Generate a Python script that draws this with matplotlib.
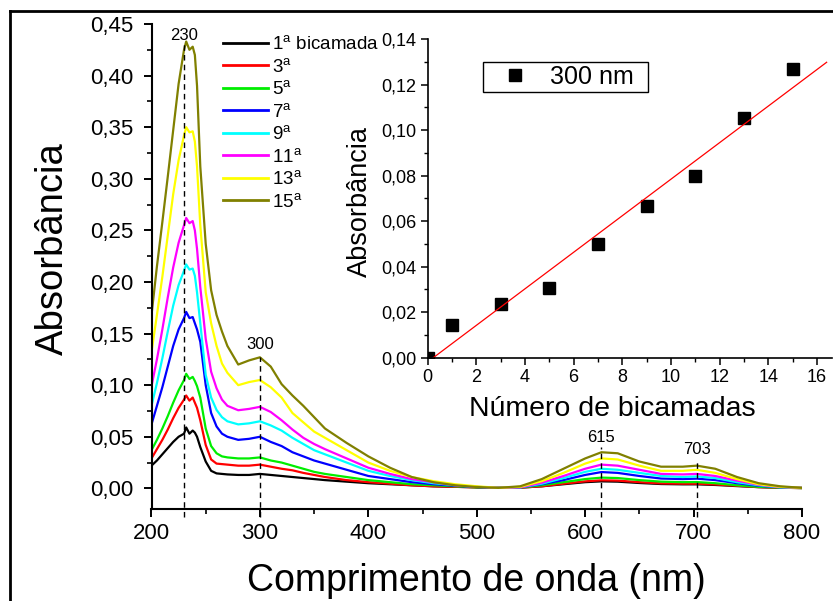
import numpy as np
import matplotlib
matplotlib.use("Agg")
import matplotlib.pyplot as plt
from matplotlib.ticker import MultipleLocator, FuncFormatter
from matplotlib.lines import Line2D
from matplotlib.patches import Rectangle

plt.rcParams['font.family'] = ['Liberation Sans', 'DejaVu Sans']
plt.rcParams['mathtext.fontset'] = 'custom'
plt.rcParams['mathtext.rm'] = 'Liberation Sans'
plt.rcParams['mathtext.it'] = 'Liberation Sans:italic'
plt.rcParams['mathtext.bf'] = 'Liberation Sans:bold'

# UV-Vis spectra of the multilayer film (absorbance vs wavelength)
wavelength = [200, 205, 210, 215, 220, 225, 230, 232, 235, 238, 240, 242, 245,
              250, 255, 260, 265, 270, 280, 290, 300, 310, 320, 330, 340, 350,
              360, 380, 400, 420, 440, 460, 480, 500, 520, 540, 560, 580, 600,
              615, 630, 650, 670, 690, 703, 720, 740, 760, 780, 800]

abs_01 = [0.022, 0.027, 0.033, 0.039, 0.045, 0.050, 0.053, 0.059, 0.053, 0.056, 0.054, 0.050, 0.040,
          0.026, 0.017, 0.0145, 0.014, 0.0135, 0.013, 0.013, 0.014, 0.013, 0.012, 0.011, 0.010, 0.009,
          0.008, 0.0065, 0.005, 0.004, 0.003, 0.002, 0.0015, 0.001, 0.0005, 0.0007, 0.002, 0.004, 0.006,
          0.0068, 0.0065, 0.0052, 0.0042, 0.0039, 0.0039, 0.0033, 0.0022, 0.0012, 0.0006, 0.0003]
abs_03 = [0.029, 0.038, 0.047, 0.057, 0.068, 0.078, 0.086, 0.090, 0.085, 0.088, 0.083, 0.078, 0.066,
          0.042, 0.028, 0.024, 0.0235, 0.023, 0.022, 0.022, 0.023, 0.021, 0.019, 0.0175, 0.015, 0.013,
          0.011, 0.008, 0.006, 0.0045, 0.003, 0.002, 0.0015, 0.001, 0.0005, 0.0007, 0.002, 0.0045, 0.0068,
          0.0078, 0.0075, 0.006, 0.0048, 0.0045, 0.0045, 0.0038, 0.0025, 0.0012, 0.0006, 0.0003]
abs_05 = [0.037, 0.047, 0.058, 0.070, 0.083, 0.095, 0.105, 0.111, 0.106, 0.108, 0.104, 0.099, 0.088,
          0.058, 0.041, 0.034, 0.031, 0.030, 0.029, 0.029, 0.030, 0.027, 0.025, 0.022, 0.019, 0.016,
          0.014, 0.011, 0.008, 0.006, 0.004, 0.003, 0.002, 0.001, 0.0005, 0.0008, 0.003, 0.006, 0.009,
          0.0104, 0.010, 0.008, 0.0065, 0.006, 0.0061, 0.005, 0.003, 0.0015, 0.0008, 0.0003]
abs_07 = [0.062, 0.080, 0.098, 0.118, 0.138, 0.154, 0.165, 0.171, 0.165, 0.166, 0.160, 0.154, 0.142,
          0.100, 0.073, 0.060, 0.053, 0.050, 0.047, 0.048, 0.050, 0.045, 0.041, 0.035, 0.031, 0.027,
          0.024, 0.018, 0.012, 0.009, 0.006, 0.004, 0.0025, 0.0013, 0.0005, 0.001, 0.004, 0.008, 0.013,
          0.0158, 0.015, 0.012, 0.0095, 0.009, 0.0094, 0.008, 0.005, 0.0025, 0.001, 0.0005]
abs_09 = [0.080, 0.102, 0.126, 0.152, 0.177, 0.197, 0.211, 0.217, 0.212, 0.213, 0.206, 0.190, 0.160,
          0.110, 0.088, 0.076, 0.069, 0.065, 0.062, 0.063, 0.065, 0.061, 0.056, 0.049, 0.043, 0.037,
          0.033, 0.025, 0.017, 0.012, 0.008, 0.005, 0.003, 0.0015, 0.0005, 0.001, 0.0045, 0.010, 0.016,
          0.019, 0.018, 0.015, 0.012, 0.011, 0.0116, 0.010, 0.006, 0.003, 0.001, 0.0005]
abs_11 = [0.099, 0.125, 0.154, 0.185, 0.214, 0.238, 0.255, 0.262, 0.257, 0.259, 0.250, 0.232, 0.195,
          0.145, 0.113, 0.097, 0.086, 0.080, 0.0757, 0.077, 0.079, 0.074, 0.066, 0.057, 0.049, 0.043,
          0.038, 0.029, 0.020, 0.014, 0.009, 0.006, 0.003, 0.0015, 0.0005, 0.001, 0.0055, 0.012, 0.019,
          0.023, 0.022, 0.018, 0.014, 0.0135, 0.014, 0.012, 0.0075, 0.0035, 0.0013, 0.0005]
abs_13 = [0.132, 0.168, 0.205, 0.245, 0.285, 0.318, 0.342, 0.350, 0.345, 0.346, 0.336, 0.312, 0.255,
          0.190, 0.160, 0.138, 0.121, 0.112, 0.100, 0.103, 0.105, 0.098, 0.088, 0.073, 0.064, 0.055,
          0.049, 0.037, 0.025, 0.017, 0.011, 0.007, 0.004, 0.002, 0.0005, 0.0015, 0.007, 0.015, 0.024,
          0.029, 0.028, 0.022, 0.017, 0.017, 0.018, 0.015, 0.009, 0.004, 0.0015, 0.0005]
abs_15 = [0.168, 0.215, 0.258, 0.302, 0.347, 0.392, 0.425, 0.433, 0.425, 0.428, 0.420, 0.390, 0.312,
          0.237, 0.192, 0.168, 0.152, 0.138, 0.120, 0.124, 0.127, 0.118, 0.101, 0.090, 0.080, 0.069,
          0.058, 0.044, 0.031, 0.020, 0.011, 0.006, 0.003, 0.0013, 0.0005, 0.002, 0.009, 0.019, 0.029,
          0.035, 0.034, 0.026, 0.021, 0.021, 0.022, 0.019, 0.011, 0.005, 0.002, 0.0005]

spectra = [abs_01, abs_03, abs_05, abs_07, abs_09, abs_11, abs_13, abs_15]
series_labels = [r'1$^{\mathrm{a}}$ bicamada', r'3$^{\mathrm{a}}$', r'5$^{\mathrm{a}}$',
                 r'7$^{\mathrm{a}}$', r'9$^{\mathrm{a}}$', r'11$^{\mathrm{a}}$',
                 r'13$^{\mathrm{a}}$', r'15$^{\mathrm{a}}$']
series_colors = ['#000000', '#ff0000', '#00ee00', '#0000ff', '#00ffff', '#ff00ff',
                 '#ffff00', '#808000']

# marked bands: wavelength and the height where the marker line ends
band_nm = [230, 300, 615, 703]
band_top = [0.432, 0.127, 0.040, 0.028]
band_label_y = [0.439, 0.139, 0.049, 0.0375]

# absorbance at 300 nm vs number of bilayers
n_bilayers = [0, 1, 3, 5, 7, 9, 11, 13, 15]
abs_300 = [0.0, 0.0142, 0.0235, 0.0305, 0.0500, 0.0668, 0.0798, 0.1055, 0.1268]

W, H = 833, 601
fig = plt.figure(figsize=(W / 100, H / 100), dpi=100)

comma2 = FuncFormatter(lambda v, p: f"{v:.2f}".replace('.', ','))

# ---- main spectra panel ----
ax = fig.add_axes([151.5 / W, 1 - 509 / H, (802 - 151.5) / W, (509 - 24) / H])
ax.set_zorder(0)
for y, lab, c in zip(spectra, series_labels, series_colors):
    ax.plot(wavelength, y, color=c, lw=1.6, label=lab)

for x, top, ly in zip(band_nm, band_top, band_label_y):
    ax.plot([x, x], [-0.028, top], color='black', lw=1.0,
            linestyle=(0, (4, 3)), clip_on=False, zorder=5)
    ax.text(x, ly, str(x), ha='center', va='center', fontsize=12)

ax.set_xlim(200, 800)
ax.set_ylim(-0.02, 0.45)
ax.xaxis.set_major_locator(MultipleLocator(100))
ax.xaxis.set_minor_locator(MultipleLocator(50))
ax.yaxis.set_major_locator(MultipleLocator(0.05))
ax.yaxis.set_minor_locator(MultipleLocator(0.025))
ax.yaxis.set_major_formatter(comma2)
for s in ['top', 'right']:
    ax.spines[s].set_visible(False)
for s in ['left', 'bottom']:
    ax.spines[s].set_linewidth(1.5)
ax.tick_params(which='major', direction='out', length=6, width=1.4, labelsize=16)
ax.tick_params(axis='y', which='major', pad=7)
ax.tick_params(axis='x', which='major', pad=4)
ax.tick_params(which='minor', direction='out', length=3.5, width=1.2)
ax.set_xlabel('Comprimento de onda (nm)', fontsize=27, labelpad=13.5)
ax.set_ylabel('Absorbância', fontsize=27.5, labelpad=14)
ax.yaxis.label.set_y(0.536)

leg = ax.legend(loc='upper left', bbox_to_anchor=(210 / W, 1 - 22 / H),
                bbox_transform=fig.transFigure, frameon=False, fontsize=13.5,
                handlelength=2.4, handletextpad=0.2, labelspacing=0.24,
                borderpad=0.2)
for h in leg.get_lines():
    h.set_linewidth(2.0)

# legend box of the inset, drawn beneath the (transparent) inset axes
fig.add_artist(Rectangle((483 / W, 1 - 92 / H), (648 - 483) / W, 30 / H,
                         transform=fig.transFigure, facecolor='white',
                         edgecolor='black', lw=1.0, zorder=0.5))

# ---- inset: growth at 300 nm ----
ins = fig.add_axes([427.7 / W, 1 - 357.7 / H, (831.5 - 427.7) / W, (357.7 - 39) / H])
ins.set_zorder(1)
ins.patch.set_alpha(0)
ins.plot(n_bilayers, abs_300, 's', color='black', ms=8.5, label='300 nm', clip_on=True)
slope, intercept = np.polyfit(n_bilayers, abs_300, 1)
fit_x = np.array([0.0, 16.4])
ins.plot(fit_x, slope * fit_x + intercept, color='red', lw=0.9)
ins.set_xlim(0, 16.6)
ins.set_ylim(0, 0.14)
ins.xaxis.set_major_locator(MultipleLocator(2))
ins.xaxis.set_minor_locator(MultipleLocator(1))
ins.yaxis.set_major_locator(MultipleLocator(0.02))
ins.yaxis.set_minor_locator(MultipleLocator(0.01))
ins.yaxis.set_major_formatter(comma2)
for s in ['top', 'right']:
    ins.spines[s].set_visible(False)
for s in ['left', 'bottom']:
    ins.spines[s].set_linewidth(1.2)
ins.tick_params(which='major', direction='out', length=5, width=1.1, labelsize=13, pad=3)
ins.tick_params(which='minor', direction='out', length=3, width=1.0)
ins.set_xlabel('Número de bicamadas', fontsize=20.5, labelpad=7)
ins.set_ylabel('Absorbância', fontsize=19.5, labelpad=6)
ins.xaxis.label.set_x(0.456)
ins.yaxis.label.set_y(0.489)

ileg = ins.legend(loc='center left', bbox_to_anchor=(483 / W, 1 - 77 / H),
                  bbox_transform=fig.transFigure, fontsize=18, frameon=False,
                  handlelength=2.25, handletextpad=0.28, borderpad=0.15,
                  borderaxespad=0)

# ---- outer frame lines ----
fig.add_artist(Line2D([10 / W, 1.0], [1 - 11 / H, 1 - 11 / H], color='black', lw=2.0,
                      transform=fig.transFigure))
fig.add_artist(Line2D([10 / W, 10 / W], [0.0, 1 - 11 / H], color='black', lw=2.0,
                      transform=fig.transFigure))

fig.savefig('out.png', dpi=100)
